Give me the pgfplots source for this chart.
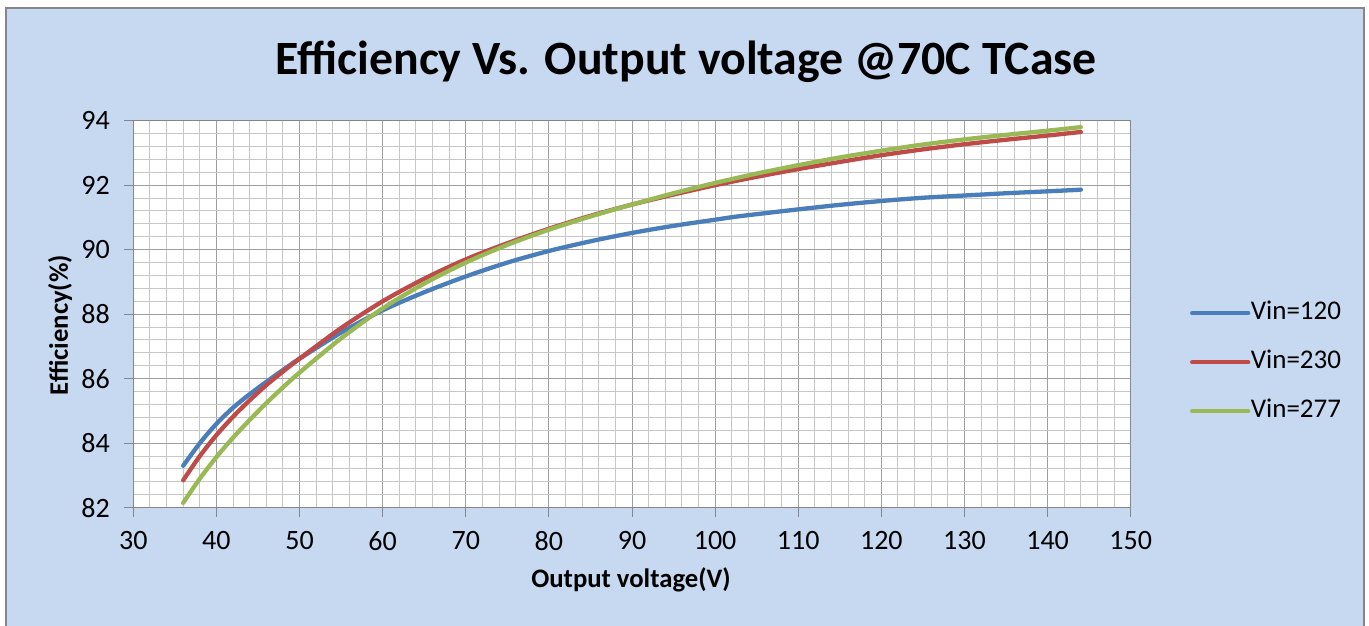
\documentclass[border=0pt]{standalone}
\usepackage{fontspec}
\setmainfont{Carlito}
\usepackage{pgfplots}
\pgfplotsset{compat=1.18}
\definecolor{bgblue}{HTML}{C6D9F1}
\definecolor{frame}{HTML}{868686}
\definecolor{s1}{HTML}{4A7EBB}
\definecolor{s2}{HTML}{BE4B48}
\definecolor{s3}{HTML}{98B954}
\begin{document}
\begin{tikzpicture}[x=1bp,y=1bp]
\useasboundingbox (0,0) rectangle (1369,626);
\fill[bgblue] (6,0) rectangle (1364,618);
\draw[frame,line width=1.5bp] (6,-2) -- (6,618) -- (1364,618) -- (1364,-2);
\node[anchor=base,font=\fontsize{47.8bp}{52bp}\selectfont\bfseries] at (686,551) {Efficiency Vs. Output voltage @70C TCase};
\begin{axis}[
  at={(133.3bp,118.3bp)}, anchor=south west,
  scale only axis, width=997.4bp, height=387bp,
  xmin=30, xmax=150, ymin=82, ymax=94,
  xtick={30,40,...,150}, ytick={82,84,...,94},
  minor x tick num=4, minor y tick num=4,
  grid=both,
  major grid style={color=black!38, line width=1bp},
  minor grid style={color=black!22, line width=1bp},
  axis line style={color=frame, line width=1bp},
  tick style={color=frame, line width=1bp},
  major tick length=9bp, minor tick length=0pt,
  tick align=outside, tick pos=left,
  axis background/.style={fill=white},
  /pgf/number format/assume math mode=true,
  ticklabel style={font=\fontsize{28bp}{30bp}\selectfont, color=black},
  xticklabel style={yshift=-11bp},
  yticklabel style={xshift=-11bp},
  xlabel={Output voltage(V)}, ylabel={Efficiency(\%)},
  label style={font=\fontsize{26.7bp}{30bp}\selectfont\bfseries},
  xlabel style={at={(rel axis cs:0.499,-0.187)}, anchor=center},
  ylabel style={at={(rel axis cs:-0.0735,0.472)}, anchor=center},
  legend style={at={(rel axis cs:1.0595,0.376)}, anchor=west, draw=none, fill=none,
    inner sep=0pt, outer sep=0pt, row sep=25bp, column sep=0pt,
    font=\fontsize{27bp}{30bp}\selectfont,
    nodes={inner sep=0.5bp, text height=18bp, text depth=5bp}},
  legend cell align=left,
  legend image code/.code={\draw[#1] (0bp,0bp) -- (56bp,0bp);},
  every axis plot/.append style={line width=4.3bp, smooth, line cap=round, line join=round},
]
\addplot[s1] coordinates {(36,83.3)(38,84.0)(40,84.6)(42,85.1)(44,85.52)(46,85.9)(48,86.27)(50,86.62)(55,87.43)(60,88.12)(65,88.68)(70,89.17)(75,89.6)(80,89.96)(85,90.26)(90,90.52)(95,90.74)(100,90.93)(103,91.04)(110,91.25)(115,91.39)(120,91.51)(125,91.61)(130,91.68)(135,91.75)(140,91.81)(144,91.86)};
\addplot[s2] coordinates {(36,82.85)(38,83.6)(40,84.25)(42,84.82)(44,85.33)(46,85.8)(48,86.22)(50,86.62)(55,87.57)(60,88.4)(65,89.1)(70,89.7)(75,90.2)(80,90.65)(85,91.05)(90,91.4)(95,91.71)(100,92.0)(105,92.26)(110,92.5)(115,92.72)(120,92.93)(125,93.11)(130,93.27)(135,93.41)(140,93.54)(144,93.65)};
\addplot[s3] coordinates {(36,82.15)(38,82.9)(40,83.57)(42,84.17)(44,84.72)(46,85.24)(48,85.73)(50,86.19)(55,87.25)(60,88.18)(65,88.95)(70,89.6)(75,90.15)(80,90.62)(85,91.03)(90,91.4)(95,91.75)(100,92.07)(105,92.36)(110,92.62)(115,92.86)(120,93.07)(125,93.26)(130,93.42)(135,93.56)(140,93.69)(144,93.8)};
\legend{Vin=120,Vin=230,Vin=277}
\end{axis}
\end{tikzpicture}
\end{document}
